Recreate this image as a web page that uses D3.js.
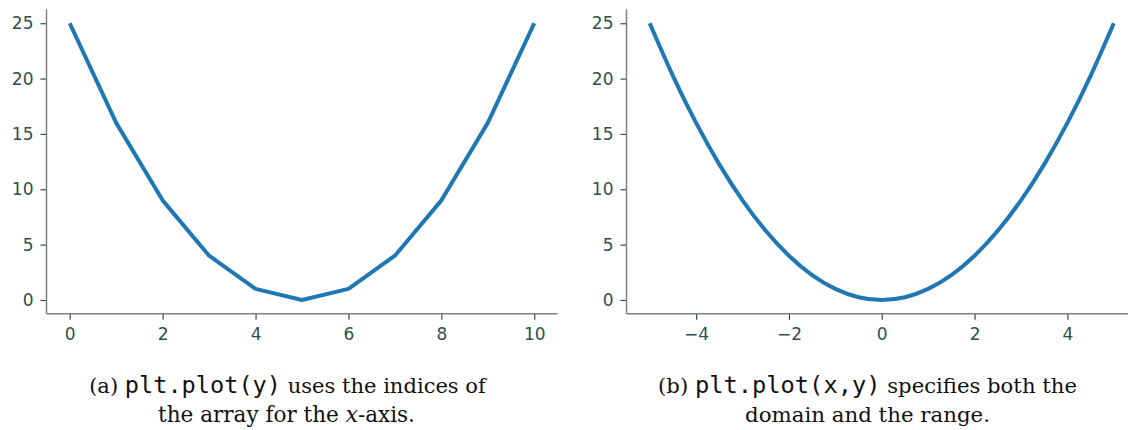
<!DOCTYPE html>
<html><head><meta charset="utf-8">
<script src="https://cdn.jsdelivr.net/npm/d3@7"></script>
<style>
html,body{margin:0;padding:0;background:#fff;}
svg{display:block;}
.tick text{font-family:"DejaVu Sans",sans-serif;font-size:17px;fill:#2f4f4f;}
.cap{font-family:"DejaVu Serif",serif;fill:#111;}
.mono{font-family:"DejaVu Sans Mono",monospace;}
</style></head>
<body>
<svg id="c" width="1128" height="430"></svg>
<script>
// Panel (a): y plotted against its indices
const indexY = [25, 16, 9, 4, 1, 0, 1, 4, 9, 16, 25];
// Panel (b): x and y samples of the parabola
const xsB = [-5, -4.5, -4, -3.5, -3, -2.5, -2, -1.5, -1, -0.5, 0, 0.5, 1, 1.5, 2, 2.5, 3, 3.5, 4, 4.5, 5];
const ysB = [25, 20.25, 16, 12.25, 9, 6.25, 4, 2.25, 1, 0.25, 0, 0.25, 1, 2.25, 4, 6.25, 9, 12.25, 16, 20.25, 25];
const yTicks = [0, 5, 10, 15, 20, 25];
const xTicksA = [0, 2, 4, 6, 8, 10];
const xTicksB = [-4, -2, 0, 2, 4];
const captionA = [["(a) ", ""], ["plt.plot(y)", "mono"], [" uses the indices of", ""]];
const captionA2 = [["the array for the ", ""], ["x", "it"], ["-axis.", ""]];
const captionB = [["(b) ", ""], ["plt.plot(x,y)", "mono"], [" specifies both the", ""]];
const captionB2 = [["domain and the range.", ""]];

const svg = d3.select("#c");
const lineColor = "#1f77b4", spine = "#808080", tickCol = "#2f4f4f";
const yTop = 9.4, yBot = 313.8;

function panel(x0, x1, xdom, xticks, pts, curve, fmt) {
  const x = d3.scaleLinear().domain(xdom).range([x0, x1]);
  const y = d3.scaleLinear().domain([-1.25, 26.25]).range([yBot, yTop]);
  const g = svg.append("g");
  const line = d3.line().x(d => x(d[0])).y(d => y(d[1])).curve(curve);
  g.append("path").datum(pts).attr("d", line).attr("fill", "none")
    .attr("stroke", lineColor).attr("stroke-width", 4).attr("stroke-linejoin", "round");
  const ax = g.append("g").attr("transform", `translate(0,${yBot})`)
    .call(d3.axisBottom(x).tickValues(xticks).tickSize(6).tickPadding(8).tickFormat(fmt));
  const ay = g.append("g").attr("transform", `translate(${x0},0)`)
    .call(d3.axisLeft(y).tickValues(yTicks).tickSize(6).tickPadding(7));
  [ax, ay].forEach(a => {
    a.select(".domain").remove();
    a.selectAll(".tick line").attr("stroke", tickCol).attr("stroke-width", 1.2);
  });
  g.append("line").attr("x1", x0).attr("x2", x0).attr("y1", yTop).attr("y2", yBot)
    .attr("stroke", spine).attr("stroke-width", 1.5);
  g.append("line").attr("x1", x0).attr("x2", x1).attr("y1", yBot).attr("y2", yBot)
    .attr("stroke", spine).attr("stroke-width", 1.5);
}

const minus = d => (d < 0 ? "\u2212" + Math.abs(d) : String(d));
panel(46.5, 557.5, [-0.5, 10.5], xTicksA, indexY.map((v, i) => [i, v]), d3.curveLinear, minus);
panel(626.5, 1137, [-5.5, 5.5], xTicksB, xsB.map((v, i) => [v, ysB[i]]), d3.curveNatural, minus);

// caption lines: fit each line to the width it spans in the reference
function caption(left, right, cy, parts) {
  const t = svg.append("text").attr("class", "cap").attr("x", (left + right) / 2).attr("y", cy)
    .attr("text-anchor", "middle");
  const base = 20;
  const spans = parts.map(([s, k]) => {
    const ts = t.append("tspan").text(s).attr("font-size", base);
    if (k === "mono") ts.attr("class", "mono").attr("font-size", base * 1.12);
    if (k === "it") ts.attr("font-style", "italic");
    return [ts, k];
  });
  const w = t.node().getComputedTextLength();
  const s = Math.min(1.15, Math.max(0.85, (right - left) / w));
  spans.forEach(([ts, k]) => ts.attr("font-size", (k === "mono" ? base * 1.12 : base) * s));
}
caption(89, 486, 393, captionA);
caption(158, 415, 422, captionA2);
caption(658, 1077, 393, captionB);
caption(745, 990, 422, captionB2);
</script>
</body></html>
